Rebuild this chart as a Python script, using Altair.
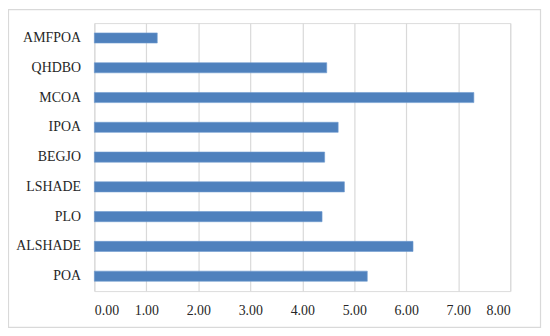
import altair as alt
import pandas as pd

categories = ["AMFPOA", "QHDBO", "MCOA", "IPOA", "BEGJO", "LSHADE", "PLO", "ALSHADE", "POA"]
values = [1.21, 4.47, 7.30, 4.69, 4.43, 4.81, 4.38, 6.13, 5.25]
x_ticks = [0, 1, 2, 3, 4, 5, 6, 7, 8]

df = pd.DataFrame({"cat": categories, "val": values})

font = "Liberation Serif"
grid_color = "#d9d9d9"

bars = alt.Chart(df).mark_bar(color="#4F81BD", stroke="#6f9bd0", strokeWidth=0.6).encode(
    x=alt.X("val:Q",
            scale=alt.Scale(domain=[0, 8], nice=False),
            axis=alt.Axis(values=x_ticks, format=".2f", title=None, domain=False, ticks=False,
                          grid=True, gridColor=grid_color, gridWidth=1.2,
                          labelFont=font, labelFontSize=14, labelColor="#262626",
                          labelPadding=13)),
    y=alt.Y("cat:N", sort=categories,
            scale=alt.Scale(paddingInner=0.66, paddingOuter=0.33),
            axis=alt.Axis(title=None, domain=False, ticks=False, grid=False,
                          labelFont=font, labelFontSize=14, labelColor="#262626",
                          labelPadding=14)),
)

frame = alt.Chart(pd.DataFrame({"a": [0]})).mark_rect(
    fill=None, stroke=grid_color, strokeWidth=1.2
).encode(
    x=alt.value(-86.5), x2=alt.value(449.5),
    y=alt.value(-13.5), y2=alt.value(306.5),
)

chart = alt.layer(bars, frame).properties(
    width=419, height=270,
    autosize=alt.AutoSizeParams(type="none"),
    padding={"left": 87, "top": 14, "right": 32, "bottom": 38},
).configure_view(stroke=None).configure(background="white")

chart.save("out.html", embed_options={"renderer": "svg", "actions": False})
